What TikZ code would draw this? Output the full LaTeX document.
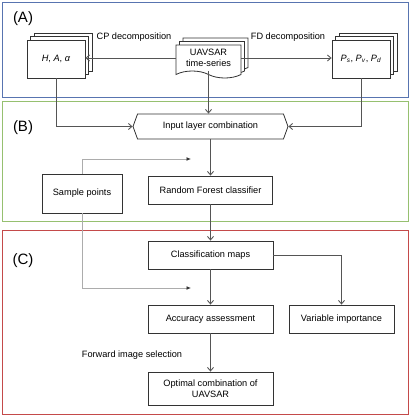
\documentclass[tikz,border=0pt]{standalone}
\usepackage{fontspec}
\setmainfont{Liberation Sans}
\usetikzlibrary{arrows.meta,shapes.symbols,shadows}

\definecolor{panelA}{RGB}{88,116,176}
\definecolor{panelB}{RGB}{150,192,112}
\definecolor{panelC}{RGB}{196,74,74}
\definecolor{flowgray}{RGB}{85,85,85}
\definecolor{samplegray}{RGB}{172,172,172}

\begin{document}
\begin{tikzpicture}[x=1pt,y=-1pt,
    font=\fontsize{9.2}{11.5}\selectfont,
    box/.style={draw=black!80,line width=0.8pt,fill=white,inner sep=0pt,align=center},
    stack/.style={box,double copy shadow={shadow xshift=3.5pt,shadow yshift=3.5pt}},
    flowline/.style={draw=flowgray,line width=0.9pt,-{Straight Barb[length=3.5pt,width=6pt]}},
    sampleline/.style={draw=samplegray,line width=0.9pt,-{Latex[length=4.5pt,width=4pt,color=black!80]}},
    panellabel/.style={font=\fontsize{15}{16}\selectfont}]
  \useasboundingbox (0,0) rectangle (411,418);
  \draw[panelA,line width=0.9pt] (2,2) rectangle (408,97); % panel A
  \draw[panelB,line width=0.9pt] (2,101) rectangle (408,221); % panel B
  \draw[panelC,line width=0.9pt] (2,230) rectangle (408,414); % panel C
  \node[panellabel] (labA) at (23,19) {(A)};
  \node[panellabel] (labB) at (23,128) {(B)};
  \node[panellabel] (labC) at (23,261) {(C)};
  % decomposition inputs
  \node[stack,minimum width=58pt,minimum height=38pt] (hbox) at (56,59)
    {\textit{H}, \textit{A}, \textit{α}};
  \node[stack,tape,tape bend top=none,tape bend bottom=out and in,tape bend height=7pt,
    minimum width=65pt,minimum height=33pt] (uav) at (208.5,58) {UAVSAR\\time-series};
  \node[stack,minimum width=58pt,minimum height=38pt] (pbox) at (361,59)
    {\textit{P}\textsubscript{\textit{s}}, \textit{P}\textsubscript{\textit{v}}, \textit{P}\textsubscript{\textit{d}}};
  \node (cplbl) at (134,37) {CP decomposition};
  \node (fdlbl) at (288,37) {FD decomposition};
  \draw[flowline] (uav.west) -- (uav.west -| hbox.east); % CP
  \draw[flowline] (uav.east) -- (uav.east -| pbox.west); % FD
  % classification
  \node[box,signal,signal to=west and east,signal pointer angle=140,
    minimum width=155pt,minimum height=25pt] (inp) at (210.5,126.5) {Input layer combination};
  \draw[flowline] (uav.south) -- (uav.south |- inp.north);
  \draw[flowline] (hbox.south) |- (inp.west);
  \draw[flowline] (pbox.south) |- (inp.east);
  \node[box,minimum width=124pt,minimum height=28pt] (rf) at (210.5,190) {Random Forest classifier};
  \node[box,minimum width=80pt,minimum height=39pt] (sp) at (82,193.5) {Sample points};
  \draw[flowline] (inp.south) -- (inp.south |- rf.north);
  \coordinate (spin) at (191,159);
  \coordinate (spout) at (191,288);
  \draw[sampleline] (sp.north) |- (spin); % training
  \draw[sampleline] (sp.south) |- (spout); % validation
  % outputs
  \node[box,minimum width=125pt,minimum height=28pt] (cm) at (210.5,255) {Classification maps};
  \node[box,minimum width=125pt,minimum height=28pt] (aa) at (210.5,319) {Accuracy assessment};
  \node[box,minimum width=105pt,minimum height=28pt] (vi) at (341.5,319) {Variable importance};
  \node[box,minimum width=125pt,minimum height=33pt] (oc) at (210.5,388.5)
    {Optimal combination of\\UAVSAR};
  \node (fwd) at (132,355) {Forward image selection};
  \draw[flowline] (rf.south) -- (rf.south |- cm.north);
  \draw[flowline] (cm.south) -- (cm.south |- aa.north);
  \draw[flowline] (cm.east) -| (vi.north);
  \draw[flowline] (aa.south) -- (aa.south |- oc.north);
\end{tikzpicture}
\end{document}
